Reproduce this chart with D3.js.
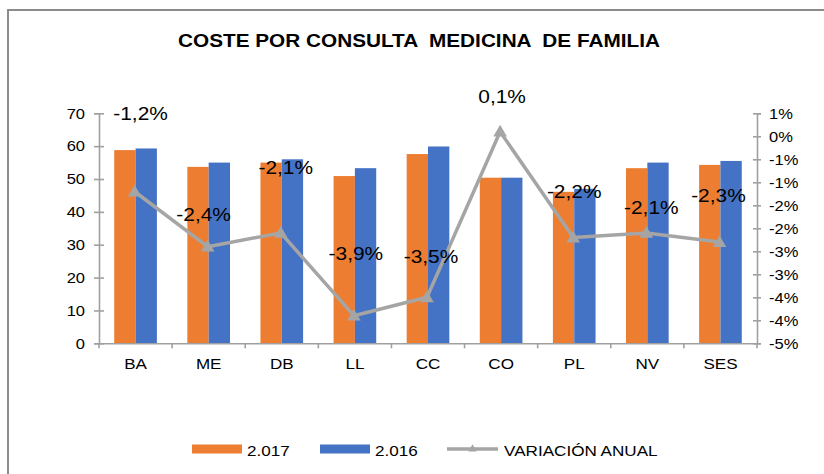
<!DOCTYPE html>
<html>
<head>
<meta charset="utf-8">
<script src="https://cdn.jsdelivr.net/npm/d3@7"></script>
<style>
  html, body { margin: 0; padding: 0; background: #fff; }
  svg { display: block; }
  text { font-family: "Liberation Sans", Arial, sans-serif; fill: #000; }
</style>
</head>
<body>
<svg id="chart" width="824" height="474"></svg>
<script>
// ---- data ----
const categories = ["BA", "ME", "DB", "LL", "CC", "CO", "PL", "NV", "SES"];
const seriesNames = ["2.017", "2.016"];
const values2017 = [58.8, 53.7, 55.0, 50.9, 57.6, 50.4, 46.1, 53.3, 54.3];
const values2016 = [59.3, 55.0, 56.0, 53.3, 59.9, 50.4, 47.0, 55.0, 55.5];
const variation = [-0.012, -0.024, -0.021, -0.039, -0.035, 0.001, -0.022, -0.021, -0.023];
const leftTicks = [0, 10, 20, 30, 40, 50, 60, 70];
const rightTicks = [0.005, 0, -0.005, -0.01, -0.015, -0.02, -0.025, -0.03, -0.035, -0.04, -0.045];
const rightTickLabels = ["1%", "0%", "-1%", "-1%", "-2%", "-2%", "-3%", "-3%", "-4%", "-4%", "-5%"];
const titleText = "COSTE POR CONSULTA  MEDICINA  DE FAMILIA";
const lineName = "VARIACIÓN ANUAL";

// data-label placement offsets (pixels, relative to marker)
const labelDx = [6, -4, 5, 2, 4, 2, 1, 5, -1];
const labelDy = [-72, -26, -59, -56, -34, -29, -40, -19, -40];

// ---- styles ----
const colors = { "2.017": "#ed7d31", "2.016": "#4472c4" };
const lineColor = "#a5a5a5";
const axisColor = "#a0a0a0";
const stretch = 1.1;

const svg = d3.select("#chart");

function stretchText(sel, k) {
  sel.each(function () {
    const L = this.getComputedTextLength();
    this.setAttribute("textLength", L * k);
    this.setAttribute("lengthAdjust", "spacingAndGlyphs");
  });
}

const locale = d3.formatLocale({ decimal: ",", thousands: ".", grouping: [3], currency: ["", "€"], minus: "-", percent: "%" });
const fmtPct = locale.format(".1%");

// outer border
svg.append("rect").attr("x", 8).attr("y", 10).attr("width", 900).attr("height", 600)
  .attr("fill", "none").attr("stroke", "#8c8c8c").attr("stroke-width", 2);

// title
const title = svg.append("text").attr("x", 419).attr("y", 46.5).attr("text-anchor", "middle")
  .style("font-size", "18.5px").style("font-weight", "bold").style("white-space", "pre")
  .attr("xml:space", "preserve")
  .text(titleText);
title.attr("textLength", 482).attr("lengthAdjust", "spacingAndGlyphs");

// scales
const pLeft = 99, pRight = 757, pTop = 113.3, pBottom = 343.3;
const x = d3.scaleBand().domain(categories).range([pLeft, pRight]).paddingInner(0).paddingOuter(0);
const xs = d3.scaleBand().domain(seriesNames).range([0, x.bandwidth()]).paddingInner(0).paddingOuter(0.714);
const y = d3.scaleLinear().domain([0, 70]).range([pBottom, pTop]);
const y2 = d3.scaleLinear().domain([-0.045, 0.005]).range([pBottom, pTop]);

// bars
const rows = categories.map((c, i) => ({ c, "2.017": values2017[i], "2.016": values2016[i] }));
const g = svg.append("g");
g.selectAll("g.cat").data(rows).join("g").attr("class", "cat")
  .attr("transform", d => `translate(${x(d.c)},0)`)
  .selectAll("rect").data(d => seriesNames.map(s => ({ s, v: d[s] }))).join("rect")
  .attr("x", d => xs(d.s)).attr("width", xs.bandwidth())
  .attr("y", d => y(d.v)).attr("height", d => y(0) - y(d.v))
  .attr("fill", d => colors[d.s]);

// left axis
const axL = svg.append("g").attr("transform", `translate(${pLeft},0)`)
  .call(d3.axisLeft(y).tickValues(leftTicks).tickSize(5).tickPadding(9).tickFormat(d3.format("d")));
axL.select(".domain").attr("stroke", axisColor).attr("stroke-width", 1.6);
axL.selectAll(".tick line").attr("stroke", axisColor).attr("stroke-width", 1.6).attr("x1", 5).attr("x2", -5);
axL.selectAll(".tick text").style("font-size", "15px").style("font-family", "Liberation Sans, Arial, sans-serif").attr("fill", "#000");
stretchText(axL.selectAll(".tick text"), stretch);

// right axis
const axR = svg.append("g").attr("transform", `translate(${pRight},0)`)
  .call(d3.axisRight(y2).tickValues(rightTicks).tickSize(4).tickPadding(8).tickFormat((d, i) => rightTickLabels[i]));
axR.select(".domain").attr("stroke", axisColor).attr("stroke-width", 1.6);
axR.selectAll(".tick line").attr("stroke", axisColor).attr("stroke-width", 1.6).attr("x1", -4).attr("x2", 4);
axR.selectAll(".tick text").style("font-size", "15px").style("font-family", "Liberation Sans, Arial, sans-serif").attr("fill", "#000");
stretchText(axR.selectAll(".tick text"), stretch);

// bottom axis
const axB = svg.append("g").attr("transform", `translate(0,${pBottom})`)
  .call(d3.axisBottom(x).tickSize(0).tickPadding(15));
axB.select(".domain").attr("stroke", axisColor).attr("stroke-width", 1.6);
axB.selectAll(".tick text").style("font-size", "15.5px").style("font-family", "Liberation Sans, Arial, sans-serif").attr("fill", "#000");
stretchText(axB.selectAll(".tick text"), stretch);
axB.selectAll("line.bnd").data(categories.map(c => x(c)).concat([x.range()[1]])).join("line")
  .attr("class", "bnd").attr("x1", d => d).attr("x2", d => d).attr("y1", 0).attr("y2", 5)
  .attr("stroke", axisColor).attr("stroke-width", 1.6);

// line
const pts = categories.map((c, i) => ({ c, v: variation[i], dx: labelDx[i], dy: labelDy[i] }));
const cx = d => x(d.c) + x.bandwidth() / 2 - 1;
svg.append("path").datum(pts)
  .attr("d", d3.line().x(cx).y(d => y2(d.v)))
  .attr("fill", "none").attr("stroke", lineColor).attr("stroke-width", 3.5).attr("stroke-linejoin", "round");
const tri = d3.symbol().type(d3.symbolTriangle).size(80);
svg.selectAll("path.mk").data(pts).join("path").attr("class", "mk")
  .attr("d", tri).attr("transform", d => `translate(${cx(d)},${y2(d.v) + 1})`)
  .attr("fill", lineColor);

// data labels
const lbl = svg.selectAll("text.dl").data(pts).join("text").attr("class", "dl")
  .attr("x", d => cx(d) + d.dx).attr("y", d => y2(d.v) + d.dy)
  .attr("text-anchor", "middle").style("font-size", "19px")
  .text(d => fmtPct(d.v));
stretchText(lbl, stretch);

// legend
const lg = svg.append("g");
const legItems = [
  { type: "bar", name: "2.017", x: 192, tx: 247 },
  { type: "bar", name: "2.016", x: 320, tx: 375 },
];
legItems.forEach(it => {
  lg.append("rect").attr("x", it.x).attr("y", 444.5).attr("width", 50).attr("height", 9).attr("fill", colors[it.name]);
  const t = lg.append("text").attr("x", it.tx).attr("y", 456).style("font-size", "15px").text(it.name);
  stretchText(t, 1.14);
});
lg.append("line").attr("x1", 447).attr("x2", 498).attr("y1", 449).attr("y2", 449)
  .attr("stroke", lineColor).attr("stroke-width", 3.5);
lg.append("path").attr("d", d3.symbol().type(d3.symbolTriangle).size(30))
  .attr("transform", "translate(472.5,449)").attr("fill", lineColor);
const lt = lg.append("text").attr("x", 504).attr("y", 456).style("font-size", "15px").text(lineName);
stretchText(lt, 1.14);
</script>
</body>
</html>
